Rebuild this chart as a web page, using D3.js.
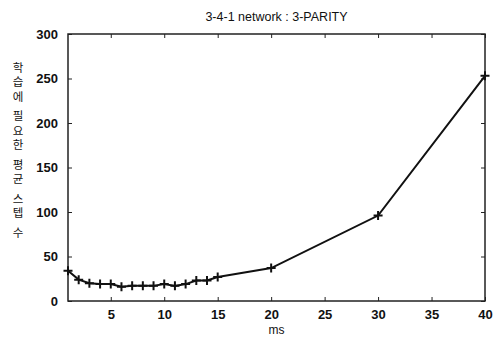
<!DOCTYPE html>
<html>
<head>
<meta charset="utf-8">
<script src="https://cdn.jsdelivr.net/npm/d3@7"></script>
<style>
  html, body { margin: 0; padding: 0; background: #fff; }
  svg { display: block; font-family: "Liberation Sans", Arial, sans-serif; }
</style>
</head>
<body>
<svg id="chart" width="497" height="338"></svg>
<script>
const title = '3-4-1 network : 3-PARITY';
const xLabel = 'ms';
const yLabel = '학습에 필요한 평균 스텝 수';

const msValues = [1, 2, 3, 4, 5, 6, 7, 8, 9, 10, 11, 12, 13, 14, 15, 20, 30, 40];
const avgSteps = [34, 24, 20, 19, 19, 16, 17, 17, 17, 19, 17, 19, 23, 23, 27, 37, 96, 253];

const xTicks = [5, 10, 15, 20, 25, 30, 35, 40];
const yTicks = [0, 50, 100, 150, 200, 250, 300];

const svg = d3.select('#chart');
const margin = { top: 34, right: 12, bottom: 37, left: 68 };
const width = 497, height = 338;
const innerWidth = width - margin.left - margin.right;
const innerHeight = height - margin.top - margin.bottom;

const g = svg.append('g')
  .attr('transform', `translate(${margin.left},${margin.top})`);

const x = d3.scaleLinear().domain([1, 40]).range([0, innerWidth]);
const y = d3.scaleLinear().domain([0, 300]).range([innerHeight, 0]);

// axes, ticks point inward; labels only bottom/left
const tickLen = 4;
g.append('g')
  .attr('transform', `translate(0,${innerHeight})`)
  .call(d3.axisBottom(x).tickValues(xTicks).tickSize(-tickLen).tickPadding(9).tickSizeOuter(0));
g.append('g')
  .call(d3.axisLeft(y).tickValues(yTicks).tickSize(-tickLen).tickPadding(10).tickSizeOuter(0));
// mirrored ticks
g.append('g')
  .call(d3.axisTop(x).tickValues(xTicks).tickSize(-tickLen).tickFormat('').tickSizeOuter(0));
g.append('g')
  .attr('transform', `translate(${innerWidth},0)`)
  .call(d3.axisRight(y).tickValues(yTicks).tickSize(-tickLen).tickFormat('').tickSizeOuter(0));

g.selectAll('.domain').remove();
g.selectAll('.tick line').attr('stroke', '#222').attr('stroke-width', 1);
g.selectAll('.tick text')
  .attr('fill', '#111')
  .style('font-size', '13px')
  .style('font-weight', 'bold');

// frame
g.append('rect')
  .attr('x', 0).attr('y', 0)
  .attr('width', innerWidth).attr('height', innerHeight)
  .attr('fill', 'none')
  .attr('stroke', '#222')
  .attr('stroke-width', 1.5);

// data line
const pts = msValues.map((m, i) => ({ m, v: avgSteps[i] }));
g.append('path')
  .datum(pts)
  .attr('fill', 'none')
  .attr('stroke', '#111')
  .attr('stroke-width', 2)
  .attr('d', d3.line().x(d => x(d.m)).y(d => y(d.v)));

// + markers
const s = 4.5;
g.selectAll('.mark')
  .data(pts)
  .enter().append('path')
  .attr('class', 'mark')
  .attr('transform', d => `translate(${x(d.m)},${y(d.v)})`)
  .attr('d', `M${-s},0H${s}M0,${-s}V${s}`)
  .attr('stroke', '#111')
  .attr('stroke-width', 2);

// title
svg.append('text')
  .attr('x', margin.left + innerWidth / 2)
  .attr('y', 21)
  .attr('text-anchor', 'middle')
  .style('font-size', '12.5px')
  .attr('fill', '#111')
  .text(title);

// x label
svg.append('text')
  .attr('x', margin.left + innerWidth / 2)
  .attr('y', 334)
  .attr('text-anchor', 'middle')
  .style('font-size', '12px')
  .attr('fill', '#111')
  .text(xLabel);

// y label, upright characters stacked top to bottom
svg.append('text')
  .attr('x', 18)
  .attr('y', 62)
  .style('writing-mode', 'vertical-rl')
  .style('font-family', '"Noto Sans CJK KR", sans-serif')
  .style('font-size', '11.5px')
  .style('letter-spacing', '2.8px')
  .attr('fill', '#111')
  .text(yLabel);
</script>
</body>
</html>
